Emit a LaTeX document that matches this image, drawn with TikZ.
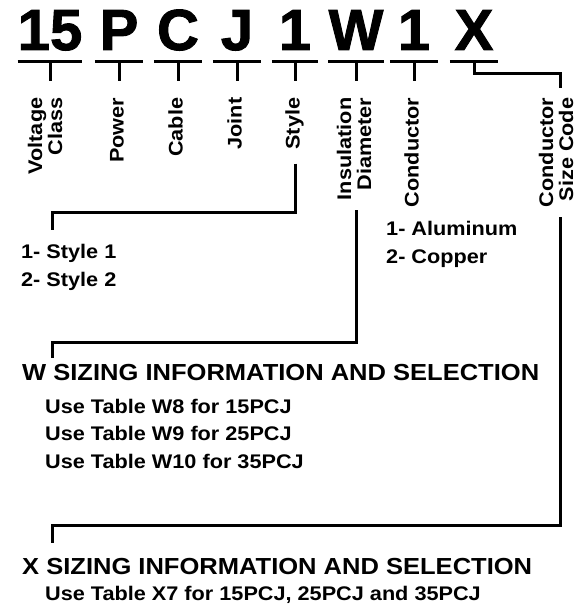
\documentclass[tikz,border=0pt]{standalone}
\usepackage{fontspec}
\usepackage{tikz}
\newfontfamily\codefont{Liberation Sans Bold}[FakeBold=1.6]
\newfontfamily\widefont{Liberation Sans Bold}[FakeStretch=1.1]

\begin{document}
\begin{tikzpicture}[
    x=1pt, y=-1pt,
    code/.style={font={\codefont\fontsize{58}{58}\selectfont}, inner sep=0pt, anchor=base, text depth=11.5pt, minimum width=#1},
    uline/.style={line width=3.5pt},
    tick/.style={line width=3pt},
    conn/.style={line width=3pt},
    lab/.style={font={\widefont\fontsize{19.7}{20}\selectfont}, rotate=90, inner sep=0pt, align=right},
    listtext/.style={font={\widefont\fontsize{19.7}{27.3}\selectfont}, inner sep=0pt, anchor=base west, align=left},
    heading/.style={font={\widefont\fontsize{23.2}{24}\selectfont}, inner sep=0pt, anchor=base west}
]
\useasboundingbox (0,0) rectangle (583,607);

% catalog number
\node[code=64pt] (c15) at (50,50) {15};
\node[code=48pt] (cP) at (119,50) {P};
\node[code=48pt] (cC) at (178,50) {C};
\node[code=48pt] (cJ) at (237,50) {J};
\node[code=46pt] (cS) at (295,50) {1};
\node[code=48pt] (cW) at (356,50) {W};
\node[code=48pt] (cM) at (414,50) {1};
\node[code=48pt] (cX) at (474,50) {X};

\foreach \n in {c15,cP,cC,cJ,cS,cW,cM,cX}
    \draw[uline] (\n.south west) -- (\n.south east);
\foreach \n in {c15,cP,cC,cJ,cS,cW,cM}
    \draw[tick] (\n.south) -- ++(0,19.5);

% field names
\node[lab, anchor=east] (lvolt) at (45,97.5) {Voltage\\Class};
\node[lab, anchor=base east] (lpow) at (123.5,97.5) {Power};
\node[lab, anchor=base east] (lcab) at (182.5,97.5) {Cable};
\node[lab, anchor=base east] (ljoi) at (241.5,97.5) {Joint};
\node[lab, anchor=base east] (lsty) at (299.5,97.5) {Style};
\node[lab, anchor=east] (lins) at (354,97.5) {Insulation\\Diameter};
\node[lab, anchor=base east] (lcon) at (418.5,97.5) {Conductor};
\node[lab, anchor=east] (lsize) at (556,97.5) {Conductor\\Size Code};

% options (base = last line)
\node[listtext] (lstyles) at (21,286) {1- Style 1\\2- Style 2};
\node[listtext] (lconds) at (386,263) {1- Aluminum\\2- Copper};
\node[heading] (wtitle) at (22,380) {W SIZING INFORMATION AND SELECTION};
\node[listtext] (wtables) at (45,468) {Use Table W8 for 15PCJ\\Use Table W9 for 25PCJ\\Use Table W10 for 35PCJ};
\node[heading] (xtitle) at (22,574) {X SIZING INFORMATION AND SELECTION};
\node[listtext] (xtable) at (45,600) {Use Table X7 for 15PCJ, 25PCJ and 35PCJ};

% leaders
\coordinate (xbend) at (560,88);
\coordinate (sbend) at (52,212);
\coordinate (send) at (52,230);
\coordinate (wbend) at (52,342);
\coordinate (wend) at (52,358);
\coordinate (xcorner) at (52,525);
\coordinate (xend) at (52,543);

\draw[conn] (cX.south) -- ++(0,11.5) -| (xbend);
\draw[conn] ([yshift=-14pt]lsty.west -| cS.south) |- (sbend) -- (send);
\draw[conn] ([yshift=-10pt]lins.west -| cW.south) |- (wbend) -- (wend);
\draw[conn] ([yshift=-10pt]lsize.west -| xbend) |- (xcorner) -- (xend);
\end{tikzpicture}
\end{document}
